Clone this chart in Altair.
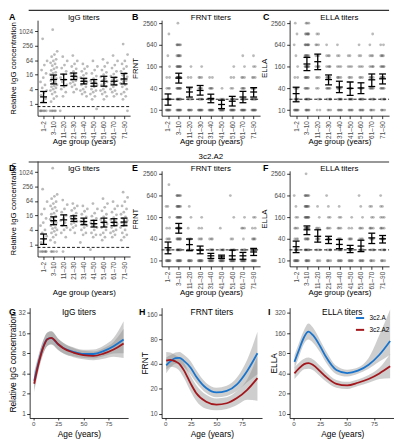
import altair as alt
import pandas as pd

FONT = "Liberation Sans"

AGE_GROUPS = ["1–2", "3–10", "11–20", "21–30", "31–40", "41–50", "51–60", "61–70", "71–90"]
TITER_LEVELS = [10, 20, 40, 80, 160, 320, 640, 1280, 2560]
IGG_TICKS = [1, 4, 16, 64, 256, 1024]
TITER_TICKS = [10, 40, 160, 640, 2560]
IGG_CUTOFF = 0.75
TITER_CUTOFF = 20
SERIES = ["3c2.A", "3c2.A2"]
SERIES_COLORS = ["#1874CD", "#A3161B"]

# ---- individual IgG values per age group (3c2.A) ----
IGG_A_POINTS = [
    [500, 60, 40, 25, 18, 12, 8, 6, 4.5, 3.5, 2.8, 2.2, 1.6, 1.2, 0.5, 0.5, 0.5, 0.5, 0.5, 0.5],
    [1200, 150, 110, 90, 70, 60, 50, 45, 38, 32, 28, 24, 20, 18, 16, 14, 12, 11, 10, 9, 8, 7, 6,
     5.5, 5, 4.5, 4, 3.5, 3, 2.5, 2, 1.6, 1.2, 0.5, 0.5, 0.5, 0.5, 0.5],
    [90, 60, 40, 30, 22, 16, 12, 10, 8, 6, 5, 4, 3, 2, 0.5],
    [100, 60, 45, 35, 28, 22, 18, 16, 14, 12, 11, 10, 9, 8, 7, 6, 5, 4, 3],
    [45, 35, 28, 22, 18, 15, 12, 10, 9, 8, 7, 6, 5, 4, 3.5, 3, 2.5, 2],
    [60, 35, 25, 18, 14, 11, 9, 8, 7, 6, 5, 4, 3.5, 3, 2.5, 2, 1.5, 0.6],
    [70, 50, 35, 25, 20, 16, 13, 11, 9, 8, 7, 6, 5, 4, 3.5, 3, 2.5, 2, 1.5],
    [100, 60, 40, 30, 22, 17, 14, 12, 10, 9, 8, 7, 6, 5, 4, 3.5, 3, 2.5, 2],
    [300, 110, 60, 45, 35, 28, 22, 18, 15, 13, 11, 10, 9, 8, 7, 6, 5, 4, 3, 2.5, 2, 1.5, 0.5],
]
# ---- individual IgG values per age group (3c2.A2) ----
IGG_A2_POINTS = [
    [200, 60, 30, 18, 12, 8, 6, 4, 3, 2.2, 1.6, 1.2, 0.5, 0.5, 0.5, 0.5, 0.5, 0.5],
    [1500, 120, 100, 80, 60, 50, 40, 35, 30, 25, 20, 18, 15, 13, 11, 10, 9, 8, 7, 6, 5, 4.5, 4,
     3.5, 3, 2.5, 2, 1.5, 1.2, 0.5, 0.5, 0.5, 0.5],
    [70, 45, 30, 22, 16, 12, 10, 8, 6, 5, 4, 3, 2, 0.5],
    [50, 40, 32, 26, 20, 16, 14, 12, 10, 9, 8, 7, 6, 5, 4, 3],
    [40, 30, 24, 18, 14, 11, 9, 8, 7, 6, 5, 4, 3, 2.5, 1.2],
    [50, 30, 20, 15, 12, 10, 8, 7, 6, 5, 4, 3, 2.5, 2, 0.6],
    [80, 50, 35, 25, 18, 14, 11, 9, 8, 7, 6, 5, 4, 3, 2.5, 2, 1.5],
    [60, 40, 30, 22, 17, 13, 11, 9, 8, 7, 6, 5, 4, 3.5, 3, 2.5, 2],
    [150, 90, 60, 40, 30, 22, 18, 14, 12, 10, 9, 8, 7, 6, 5, 4, 3, 2.5, 2, 1.5],
]

# ---- number of sera at each titer level (10..2560) per age group ----
FRNT_A_COUNTS = [
    [8, 5, 3, 2, 1, 1, 0, 1, 0], [8, 8, 8, 10, 8, 6, 6, 0, 1], [6, 3, 3, 2, 1, 0, 0, 0, 0],
    [8, 5, 4, 3, 1, 0, 0, 0, 0], [8, 6, 4, 2, 0, 0, 0, 0, 0], [8, 3, 1, 0, 0, 0, 0, 0, 0],
    [8, 4, 2, 2, 1, 0, 0, 0, 0], [8, 5, 4, 3, 1, 1, 0, 0, 0], [8, 6, 5, 3, 2, 1, 0, 0, 0],
]
ELLA_A_COUNTS = [
    [8, 4, 3, 2, 1, 1, 1, 1, 1], [6, 5, 5, 6, 8, 7, 7, 6, 3], [2, 2, 2, 3, 4, 3, 3, 2, 0],
    [3, 4, 5, 5, 4, 3, 1, 0, 0], [5, 5, 5, 4, 3, 2, 1, 0, 0], [5, 5, 4, 3, 3, 2, 0, 0, 0],
    [5, 5, 4, 3, 3, 2, 1, 0, 0], [4, 4, 5, 4, 4, 3, 1, 1, 0], [4, 4, 5, 5, 5, 4, 2, 0, 0],
]
FRNT_A2_COUNTS = [
    [8, 5, 3, 2, 1, 2, 0, 1, 0], [8, 8, 8, 8, 8, 7, 6, 0, 0], [6, 3, 3, 1, 1, 1, 0, 0, 0],
    [8, 5, 3, 2, 1, 0, 0, 0, 0], [8, 5, 3, 0, 0, 0, 0, 0, 0], [8, 4, 0, 1, 0, 0, 0, 0, 0],
    [8, 4, 2, 0, 1, 0, 1, 0, 0], [8, 4, 1, 3, 1, 0, 0, 0, 0], [8, 6, 4, 2, 2, 0, 0, 0, 0],
]
ELLA_A2_COUNTS = [
    [8, 5, 3, 3, 2, 1, 1, 0, 0], [6, 6, 6, 8, 8, 7, 6, 0, 1], [3, 3, 4, 3, 1, 1, 0, 0, 0],
    [4, 4, 4, 3, 2, 1, 1, 0, 0], [5, 5, 4, 3, 2, 1, 0, 0, 0], [5, 5, 4, 2, 1, 0, 0, 0, 0],
    [5, 5, 3, 3, 1, 1, 1, 0, 0], [4, 4, 4, 4, 2, 2, 0, 0, 0], [4, 4, 4, 4, 3, 2, 1, 0, 0],
]

# ---- geometric means and 95% CI per age group ----
IGG_A_MEAN = [1.9, 10, 10, 13.7, 8.5, 7, 8.5, 8.5, 10.6]
IGG_A_LO = [1.1, 6.6, 5.6, 10, 6.6, 5.3, 5.3, 6, 6.6]
IGG_A_HI = [3.2, 15.5, 17, 18.7, 11.3, 10, 13.7, 12.4, 18]
FRNT_A_MEAN = [20, 77, 31.7, 35, 21, 14.3, 17.6, 23, 31.7]
FRNT_A_LO = [13.7, 56, 23, 26, 16, 11, 13, 16, 23]
FRNT_A_HI = [28, 105, 43, 48, 27.6, 18.8, 24, 33, 41.8]
ELLA_A_MEAN = [28.6, 189, 219, 70, 43.5, 40, 41, 69, 73.5]
ELLA_A_LO = [17, 124, 132, 50, 30.5, 25.7, 28.6, 45, 53]
ELLA_A_HI = [43, 288, 355, 94, 63, 60, 57, 100, 100]
IGG_A2_MEAN = [1.7, 9.7, 10.6, 11.7, 9, 7.3, 8.3, 8.3, 8.5]
IGG_A2_LO = [1.0, 6.6, 6, 9, 6.6, 5.3, 5.3, 6, 6]
IGG_A2_HI = [2.7, 14, 17, 15.5, 12.4, 10, 12.4, 11.7, 12.4]
FRNT_A2_MEAN = [23, 80, 28, 19.5, 13.7, 12.8, 13.7, 13.7, 17.5]
FRNT_A2_LO = [15.6, 58, 19, 15.6, 11.6, 11.6, 11, 11, 14]
FRNT_A2_HI = [33, 108, 40, 25.5, 16, 14.3, 19.7, 17, 22]
ELLA_A2_MEAN = [24.5, 72, 47.6, 38.7, 28.3, 21.6, 25.5, 42.9, 40.5]
ELLA_A2_LO = [16.8, 53, 32.8, 30, 21.6, 16.8, 17.9, 30, 31]
ELLA_A2_HI = [35, 92, 72, 47.6, 38.7, 26.5, 37, 58, 50]

# ---- smoothed fits by age ----
AGE_X = [1, 5, 10, 14, 18, 25, 30, 40, 50, 60, 70, 80, 90]
IGG_FIT_A = [3.1, 5.6, 10.0, 13.0, 13.5, 10.8, 9.6, 8.4, 7.8, 7.8, 8.6, 10.2, 12.8]
IGG_FIT_A_LO = [2.3, 4.4, 8.0, 10.3, 10.8, 8.9, 8.0, 7.2, 6.8, 6.7, 7.2, 7.9, 8.0]
IGG_FIT_A_HI = [4.2, 7.2, 12.6, 16.4, 17.0, 13.1, 11.5, 9.8, 9.0, 9.1, 10.4, 13.5, 24.0]
IGG_FIT_A2 = [2.8, 5.3, 9.8, 12.9, 13.6, 10.9, 9.5, 8.2, 7.5, 7.3, 7.9, 9.1, 11.2]
IGG_FIT_A2_LO = [2.1, 4.2, 7.8, 10.2, 10.9, 9.0, 7.9, 7.0, 6.5, 6.3, 6.6, 7.1, 6.8]
IGG_FIT_A2_HI = [3.8, 6.8, 12.3, 16.2, 17.0, 13.2, 11.4, 9.6, 8.7, 8.5, 9.5, 11.8, 18.5]
FRNT_FIT_A = [38.6, 43, 47, 47.5, 44, 35.8, 28.5, 20.5, 18.1, 18.9, 22.7, 33, 54]
FRNT_FIT_A_LO = [31, 36, 40, 40, 37, 29.5, 24, 17.8, 15.8, 16.4, 18.8, 24, 30]
FRNT_FIT_A_HI = [48, 51, 55, 56, 52, 43, 34, 23.6, 20.7, 21.8, 27.5, 45, 98]
FRNT_FIT_A2 = [44, 45, 43, 40, 34, 23, 18, 14, 12.9, 13.4, 15.5, 19.5, 27]
FRNT_FIT_A2_LO = [34, 37, 36, 33, 27.5, 18.5, 14.5, 11.5, 11, 11.4, 12.8, 14.8, 14.4]
FRNT_FIT_A2_HI = [56, 55, 51, 48, 42, 28.5, 22.5, 17, 15.3, 15.8, 18.8, 26, 50]
ELLA_FIT_A = [59.5, 88, 140, 168, 150, 101, 72, 45, 40.5, 44, 54, 76, 122]
ELLA_FIT_A_LO = [47, 70, 112, 128, 116, 82, 59, 39, 36, 39.5, 47, 60, 76]
ELLA_FIT_A_HI = [75, 112, 178, 222, 195, 124, 88, 52, 45.5, 49, 68, 150, 360]
ELLA_FIT_A2 = [40, 47, 55, 57, 54, 43, 36, 28, 26.5, 29, 33, 40, 51]
ELLA_FIT_A2_LO = [33, 39, 46, 47, 45, 36, 30.5, 24.5, 23.5, 26, 29, 33, 34]
ELLA_FIT_A2_HI = [49, 57, 66, 69, 65, 51.5, 42.5, 32, 30, 32.5, 38, 48.5, 78]

LABEL_EXPR = "[" + ",".join("'" + g + "'" for g in AGE_GROUPS) + "][datum.value - 1]"


def jit(k, w):
    # deterministic spread of overlapping points around the group centre
    return ((k * 0.6180339887 + 0.37) % 1.0 - 0.5) * w


def igg_df(groups):
    rows = []
    for gi, vals in enumerate(groups):
        for k, v in enumerate(vals):
            rows.append({"x": gi + 1 + jit(k, 0.72), "v": v})
    return pd.DataFrame(rows)


def titer_df(counts):
    rows = []
    for gi, cs in enumerate(counts):
        for li, c in enumerate(cs):
            for k in range(c):
                rows.append({"x": gi + 1 + jit(k + li, 0.42), "v": TITER_LEVELS[li]})
    return pd.DataFrame(rows)


def txt(s, x, y, size=8, bold=False, align="center", color="black"):
    return alt.Chart(pd.DataFrame({"t": [s]})).mark_text(
        fontSize=size, fontWeight="bold" if bold else "normal", align=align,
        baseline="middle", color=color, font=FONT
    ).encode(x=alt.value(x), y=alt.value(y), text="t:N")


def hrule(x1, x2, y, color="#333333", width=1.2):
    return alt.Chart(pd.DataFrame({"a": [0]})).mark_rule(color=color, strokeWidth=width).encode(
        x=alt.value(x1), x2=alt.value(x2), y=alt.value(y))


def group_panel(pts, mean, lo, hi, cutoff, ydom, yticks, ytitle, ptitle, letter, letter_x,
                vw, ox, pw, vh, oy, ph, title_x, xtitle_y, title_y, letter_y,
                header=None, header_y=None, marker=False):
    xs = alt.Scale(domain=[0.4, 9.6], nice=False, zero=False, range=[ox, ox + pw])
    ys = alt.Scale(type="log", base=2, domain=ydom, nice=False, range=[oy + ph, oy])
    xaxis = alt.Axis(values=list(range(1, 10)), labelExpr=LABEL_EXPR, labelAngle=270,
                     labelPadding=2, title="Age group (years)", titleY=xtitle_y,
                     titleBaseline="top", labelOverlap=False, offset=(oy + ph) - vh)
    yaxis = alt.Axis(values=yticks, format="d", title=ytitle, titleX=title_x,
                     labelOverlap=False, offset=-ox)

    def X(f):
        return alt.X(f, scale=xs, axis=xaxis)

    def Y(f):
        return alt.Y(f, scale=ys, axis=yaxis)

    points = alt.Chart(pts).mark_circle(size=8, color="#4a4a4a", opacity=0.38).encode(
        x=X("x:Q"), y=Y("v:Q"))
    st = pd.DataFrame({"g": list(range(1, 10)), "m": mean, "lo": lo, "hi": hi})
    cut = alt.Chart(pd.DataFrame({"c": [cutoff]})).mark_rule(
        color="black", strokeDash=[3, 2], strokeWidth=0.9).encode(
        y=Y("c:Q"), x=alt.value(ox), x2=alt.value(ox + pw))
    bar = alt.Chart(st).mark_rule(color="black", strokeWidth=1.3).encode(
        x=X("g:Q"), y=Y("lo:Q"), y2="hi:Q")
    ticks = [alt.Chart(st).mark_tick(orient="horizontal", color="black", size=7,
                                     thickness=1.3, opacity=1).encode(
        x=X("g:Q"), y=Y(c + ":Q")) for c in ("lo", "m", "hi")]
    layers = [points, cut, bar] + ticks + [
        txt(ptitle, ox + pw / 2, title_y), txt(letter, letter_x, letter_y, 9, True, "left")]
    if header:
        layers.append(hrule(-1, 365, header_y))
        layers.append(txt(header, 184, header_y - 5, 8))
    if marker:
        # white anchor above the visible page, fixes the top-left corner of the drawing
        layers.append(hrule(letter_x, letter_x + 1, -40, color="white", width=1))
    return alt.layer(*layers).properties(width=vw, height=vh)


def curve_panel(fit_a, lo_a, hi_a, fit_b, lo_b, hi_b, ydom, yticks, ytitle, ptitle,
                letter, letter_x, w, h, title_x, legend=False):
    rows = []
    for name, f, l, u in ((SERIES[0], fit_a, lo_a, hi_a), (SERIES[1], fit_b, lo_b, hi_b)):
        for a, v, lv, hv in zip(AGE_X, f, l, u):
            rows.append({"age": a, "series": name, "v": v, "lo": lv, "hi": hv})
    df = pd.DataFrame(rows)
    xs = alt.Scale(domain=[-3.5, 94.5], nice=False, zero=False)
    ys = alt.Scale(type="log", base=2, domain=ydom, nice=False)
    xaxis = alt.Axis(values=[0, 25, 50, 75], title="Age (years)", titleY=11.5,
                     titleBaseline="top", titleFontSize=8.5, labelAngle=0, tickSize=2,
                     labelPadding=1, labelFontSize=6.3)
    yaxis = alt.Axis(values=yticks, format="d", title=ytitle, titleX=title_x,
                     titleFontSize=8.5, labelOverlap=False, labelPadding=1.5)
    band = alt.Chart(df).mark_area(color="#8a8a8a", opacity=0.42, interpolate="monotone").encode(
        x=alt.X("age:Q", scale=xs, axis=xaxis), y=alt.Y("lo:Q", scale=ys, axis=yaxis),
        y2="hi:Q", detail="series:N")
    leg = None
    if legend:
        leg = alt.Legend(title=None, orient="top-right", offset=3, symbolType="stroke",
                         symbolStrokeWidth=2, symbolSize=70, labelFontSize=6.5,
                         labelColor="black", rowPadding=2, padding=2, labelFont=FONT)
    line = alt.Chart(df).mark_line(strokeWidth=1.8, interpolate="monotone").encode(
        x=alt.X("age:Q", scale=xs, axis=xaxis), y=alt.Y("v:Q", scale=ys, axis=yaxis),
        color=alt.Color("series:N", scale=alt.Scale(domain=SERIES, range=SERIES_COLORS),
                        legend=leg))
    layers = [band, line, txt(ptitle, w / 2, 4, 8.5), txt(letter, letter_x, 4, 9, True, "left")]
    return alt.layer(*layers).properties(width=w, height=h)


IGG_DOM = [0.313, 2978]
TITER_DOM = [7.0, 3090]

# row 1 (3c2.A)
A = group_panel(igg_df(IGG_A_POINTS), IGG_A_MEAN, IGG_A_LO, IGG_A_HI, IGG_CUTOFF, IGG_DOM,
                IGG_TICKS, "Relative IgG concentration", "IgG titers", "A", -21,
                106, 8, 94, 97, 0, 97, -20.5, 22, -2, -3, header="3c2.A", header_y=-10,
                marker=True)
B = group_panel(titer_df(FRNT_A_COUNTS), FRNT_A_MEAN, FRNT_A_LO, FRNT_A_HI, TITER_CUTOFF,
                TITER_DOM, TITER_TICKS, "FRNT", "FRNT titers", "B", -30,
                102, 0, 100, 97, 0, 97, -22, 22, -2, -3)
C = group_panel(titer_df(ELLA_A_COUNTS), ELLA_A_MEAN, ELLA_A_LO, ELLA_A_HI, TITER_CUTOFF,
                TITER_DOM, TITER_TICKS, "ELLA", "ELLA titers", "C", -27,
                101, 0, 101, 97, 0, 97, -21, 22, -2, -3)
# row 2 (3c2.A2)
D = group_panel(igg_df(IGG_A2_POINTS), IGG_A2_MEAN, IGG_A2_LO, IGG_A2_HI, IGG_CUTOFF, IGG_DOM,
                IGG_TICKS, "Relative IgG concentration", "IgG titers", "D", -21,
                106, 8, 94, 111, 4, 97, -20.5, 33, 12, 11, header="3c2.A2", header_y=5)
E = group_panel(titer_df(FRNT_A2_COUNTS), FRNT_A2_MEAN, FRNT_A2_LO, FRNT_A2_HI, TITER_CUTOFF,
                TITER_DOM, TITER_TICKS, "FRNT", "FRNT titers", "E", -30,
                102, 0, 100, 111, 14, 97, -22, 23, 12, 11)
F = group_panel(titer_df(ELLA_A2_COUNTS), ELLA_A2_MEAN, ELLA_A2_LO, ELLA_A2_HI, TITER_CUTOFF,
                TITER_DOM, TITER_TICKS, "ELLA", "ELLA titers", "F", -27,
                101, 0, 101, 111, 14, 97, -21, 23, 12, 11)
# row 3: fitted curves
G = curve_panel(IGG_FIT_A, IGG_FIT_A_LO, IGG_FIT_A_HI, IGG_FIT_A2, IGG_FIT_A2_LO, IGG_FIT_A2_HI,
                [0.864, 38.3], [1, 2, 4, 8, 16, 32], "Relative IgG concentration", "IgG titers",
                "G", -21, 100, 112, -12.5)
H = curve_panel(FRNT_FIT_A, FRNT_FIT_A_LO, FRNT_FIT_A_HI, FRNT_FIT_A2, FRNT_FIT_A2_LO,
                FRNT_FIT_A2_HI, [8.89, 192], [10, 20, 40, 80, 160], "FRNT", "FRNT titers",
                "H", -23, 102, 112, -12)
I = curve_panel(ELLA_FIT_A, ELLA_FIT_A_LO, ELLA_FIT_A_HI, ELLA_FIT_A2, ELLA_FIT_A2_LO,
                ELLA_FIT_A2_HI, [8.64, 383], [10, 20, 40, 80, 160, 320], "ELLA", "ELLA titers",
                "I", -22, 107, 112, -11, legend=True)

chart = alt.concat(
    A, B, C, D, E, F, G, H, I, columns=3, spacing={"row": 42, "column": 28},
    bounds="flush", align={"row": "each", "column": "none"}
).resolve_scale(color="independent").properties(
    padding={"left": 0, "top": -32, "right": -1, "bottom": 0}
).configure(font=FONT).configure_view(stroke=None).configure_axis(
    grid=False, domainColor="black", domainWidth=0.8, tickColor="black", tickSize=3,
    tickWidth=0.8, labelColor="#4d4d4d", labelFontSize=6.5, labelFont=FONT,
    titleFont=FONT, titleFontSize=8, titleFontWeight="normal", titleColor="black",
    labelPadding=2
)

chart.save("out.html", embed_options={"renderer": "svg", "actions": False})
